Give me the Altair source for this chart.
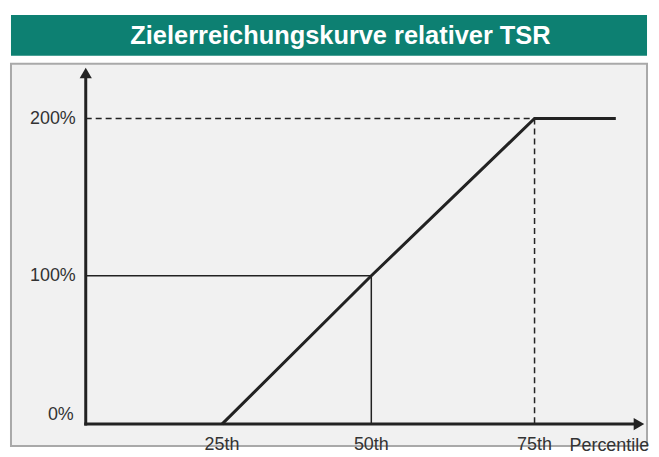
import altair as alt
import pandas as pd

# ---------------- data ----------------
title_text = "Zielerreichungskurve relativer TSR"

curve_pct = [25, 50, 75, 88]
curve_payout = [0, 100, 200, 200]

y_ticks = [0, 100, 200]
y_tick_labels = ["0%", "100%", "200%"]
x_ticks = [25, 50, 75]
x_tick_labels = ["25th", "50th", "75th"]
x_title = "Percentile"
x_title_pos = 80.6

origin_pct = 3.2          # where the vertical axis stands
x_axis_end = 91.7         # end of horizontal axis (arrow)
y_axis_end = 229.8        # end of vertical axis (arrow)

target_pct = 50
target_payout = 100
cap_pct = 75
cap_payout = 200

# piecewise scales (the drawing's tick spacing is not perfectly even)
X_DOMAIN = [-8.76, 25, 50, 75, 92.99]
X_RANGE = [0, 212, 362, 526, 639]
Y_DOMAIN = [-14.33, 0, 100, 200, 235.8]
Y_RANGE = [384, 362, 213, 55, 0]

FONT = "Liberation Sans"
GREEN = "#0d8072"
INK = "#222222"
TEXT = "#333333"

W_MAIN = 639
H_MAIN = 384

xs = alt.Scale(domain=X_DOMAIN, range=X_RANGE, nice=False, zero=False)
ys = alt.Scale(domain=Y_DOMAIN, range=Y_RANGE, nice=False, zero=False)

# ---------------- banner ----------------
banner_df = pd.DataFrame({"t": [title_text]})
banner_rect = alt.Chart(banner_df).mark_rect(color=GREEN).encode(
    x=alt.value(0), x2=alt.value(W_MAIN), y=alt.value(0), y2=alt.value(41)
)
banner_text = alt.Chart(banner_df).mark_text(
    font=FONT, fontSize=25.5, fontWeight="bold", color="white",
    align="center", baseline="middle"
).encode(x=alt.value(331), y=alt.value(21), text="t:N")
banner = alt.layer(banner_rect, banner_text).properties(width=W_MAIN, height=41)

# ---------------- main plot ----------------
axes_df = pd.DataFrame({
    "x": [origin_pct, origin_pct],
    "x2": [x_axis_end, origin_pct],
    "y": [0, 0],
    "y2": [0, y_axis_end],
})
axes = alt.Chart(axes_df).mark_rule(color=INK, strokeWidth=3, strokeCap="square").encode(
    x=alt.X("x:Q", scale=xs, axis=None), x2="x2:Q",
    y=alt.Y("y:Q", scale=ys, axis=None), y2="y2:Q",
)

arrows_df = pd.DataFrame({
    "x": [origin_pct, x_axis_end],
    "y": [y_axis_end, 0],
    "shape": ["triangle-up", "triangle-right"],
})
arrows = alt.Chart(arrows_df).mark_point(filled=True, color=INK, size=150, opacity=1).encode(
    x=alt.X("x:Q", scale=xs, axis=None),
    y=alt.Y("y:Q", scale=ys, axis=None),
    shape=alt.Shape("shape:N", scale=None, legend=None),
)

thin_df = pd.DataFrame({
    "x": [origin_pct, target_pct],
    "x2": [target_pct, target_pct],
    "y": [target_payout, target_payout],
    "y2": [target_payout, 0],
})
thin = alt.Chart(thin_df).mark_rule(color=INK, strokeWidth=1.5).encode(
    x=alt.X("x:Q", scale=xs, axis=None), x2="x2:Q",
    y=alt.Y("y:Q", scale=ys, axis=None), y2="y2:Q",
)

dash_df = pd.DataFrame({
    "x": [origin_pct, cap_pct],
    "x2": [cap_pct, cap_pct],
    "y": [cap_payout, cap_payout],
    "y2": [cap_payout, 0],
})
dashed = alt.Chart(dash_df).mark_rule(color=INK, strokeWidth=1.5, strokeDash=[6, 4]).encode(
    x=alt.X("x:Q", scale=xs, axis=None), x2="x2:Q",
    y=alt.Y("y:Q", scale=ys, axis=None), y2="y2:Q",
)

curve_df = pd.DataFrame({"pct": curve_pct, "payout": curve_payout})
curve = alt.Chart(curve_df).mark_line(color=INK, strokeWidth=3).encode(
    x=alt.X("pct:Q", scale=xs, axis=None),
    y=alt.Y("payout:Q", scale=ys, axis=None),
)

ylab_df = pd.DataFrame({"y": y_ticks, "label": y_tick_labels, "x": [origin_pct] * 3})
ylab_mid = alt.Chart(ylab_df).transform_filter("datum.y > 0").mark_text(
    font=FONT, fontSize=18, color=TEXT, align="right", baseline="middle", dx=-10
).encode(
    x=alt.X("x:Q", scale=xs, axis=None),
    y=alt.Y("y:Q", scale=ys, axis=None),
    text="label:N",
)
ylab_zero = alt.Chart(ylab_df).transform_filter("datum.y == 0").mark_text(
    font=FONT, fontSize=18, color=TEXT, align="right", baseline="middle", dx=-12, dy=-9
).encode(
    x=alt.X("x:Q", scale=xs, axis=None),
    y=alt.Y("y:Q", scale=ys, axis=None),
    text="label:N",
)

xlab_df = pd.DataFrame({"x": x_ticks, "label": x_tick_labels, "y": [0] * 3})
xlab = alt.Chart(xlab_df).mark_text(
    font=FONT, fontSize=18, color=TEXT, align="center", baseline="middle", dy=21
).encode(
    x=alt.X("x:Q", scale=xs, axis=None),
    y=alt.Y("y:Q", scale=ys, axis=None),
    text="label:N",
)

xtitle_df = pd.DataFrame({"x": [x_title_pos], "y": [0], "label": [x_title]})
xtitle = alt.Chart(xtitle_df).mark_text(
    font=FONT, fontSize=18, color=TEXT, align="left", baseline="middle", dy=22
).encode(
    x=alt.X("x:Q", scale=xs, axis=None),
    y=alt.Y("y:Q", scale=ys, axis=None),
    text="label:N",
)

main = alt.layer(
    dashed, thin, curve, axes, arrows, ylab_mid, ylab_zero, xlab, xtitle
).properties(
    width=W_MAIN, height=H_MAIN,
    view=alt.ViewBackground(fill="#f1f1f1", stroke="#a9a9a9", strokeWidth=2),
)

chart = alt.vconcat(banner, main, spacing=7).properties(
    padding={"left": 2, "top": 6, "right": 0, "bottom": 0},
    background="white",
).configure_view(stroke=None)

chart.save("out.html", embed_options={"renderer": "svg", "actions": False})
